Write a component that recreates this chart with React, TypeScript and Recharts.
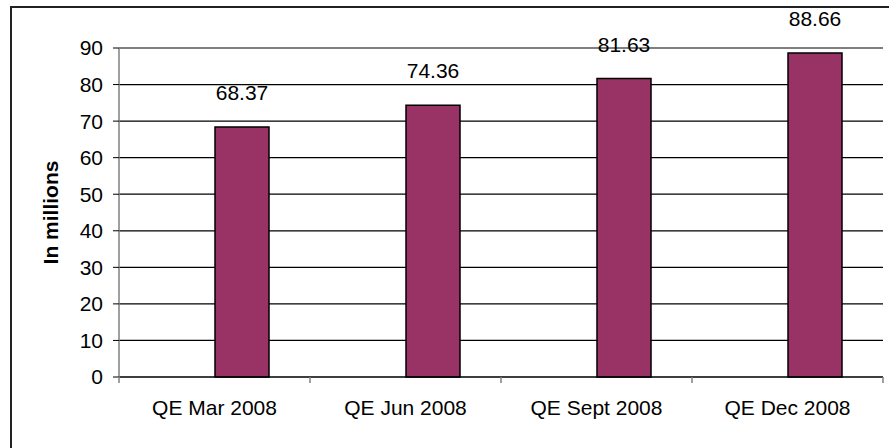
import { BarChart, Bar, XAxis, YAxis, CartesianGrid, LabelList } from 'recharts';

const quarters = ['QE Mar 2008', 'QE Jun 2008', 'QE Sept 2008', 'QE Dec 2008'];
const values = [68.37, 74.36, 81.63, 88.66];
const yTicks = [0, 10, 20, 30, 40, 50, 60, 70, 80, 90];

const W = 891;
const H = 448;
const Y_W = 119;
const RIGHT = 8;
const FONT = '"Liberation Sans", Arial, sans-serif';

const chartData = quarters.map((q, i) => ({ name: q, blank: null, value: values[i] }));
const half = (W - Y_W - RIGHT) / quarters.length / 2;

function XTick(props: any) {
  const { x, y, payload, index } = props;
  return (
    <g>
      {index === 0 && <line x1={x - half} y1={y} x2={x - half} y2={y + 6} stroke="#808080" strokeWidth={1.5} />}
      <line x1={x + half} y1={y} x2={x + half} y2={y + 6} stroke="#808080" strokeWidth={1.5} />
      <text x={x} y={y + 38} textAnchor="middle" fontSize={21} fontFamily={FONT} fill="#000">
        {payload.value}
      </text>
    </g>
  );
}

export default function App() {
  return (
    <div style={{ position: 'absolute', left: 0, top: 0, width: W, height: H, background: '#fff', overflow: 'hidden' }}>
      <div style={{ position: 'absolute', left: 10, top: 6, width: 877, height: 500, borderLeft: '2px solid #222', borderTop: '2px solid #222' }} />
      <div style={{ position: 'absolute', left: 0, top: 0 }}>
        <BarChart width={W} height={H} data={chartData} margin={{ top: 48, right: RIGHT, left: 0, bottom: 0 }}
          barSize={54} barGap={0}>
          <CartesianGrid vertical={false} stroke="#000" strokeWidth={1.2} />
          <XAxis dataKey="name" height={71} tick={<XTick />} tickLine={false} tickSize={0} tickMargin={0}
            axisLine={{ stroke: '#000', strokeWidth: 1.2 }} interval={0} />
          <YAxis width={Y_W} domain={[0, 90]} ticks={yTicks} interval={0} tickSize={6} tickMargin={10}
            axisLine={{ stroke: '#808080', strokeWidth: 1.5 }} tickLine={{ stroke: '#000' }}
            tick={{ fontSize: 21, fontFamily: FONT, fill: '#000' }}
            label={{ value: 'In millions', angle: -90, position: 'center', dx: -9, style: { fontSize: 21, fontWeight: 'bold', fontFamily: FONT, fill: '#000' } }} />
          <YAxis yAxisId="r" orientation="right" width={0} domain={[0, 90]} tick={false} tickLine={false}
            axisLine={{ stroke: '#808080', strokeWidth: 1.5 }} />
          <Bar dataKey="blank" fill="none" isAnimationActive={false} />
          <Bar dataKey="value" fill="#993366" stroke="#000" strokeWidth={1.5} isAnimationActive={false}>
            <LabelList dataKey="value" position="top" offset={27} fontSize={21} fontFamily={FONT} fill="#000" />
          </Bar>
        </BarChart>
      </div>
    </div>
  );
}
